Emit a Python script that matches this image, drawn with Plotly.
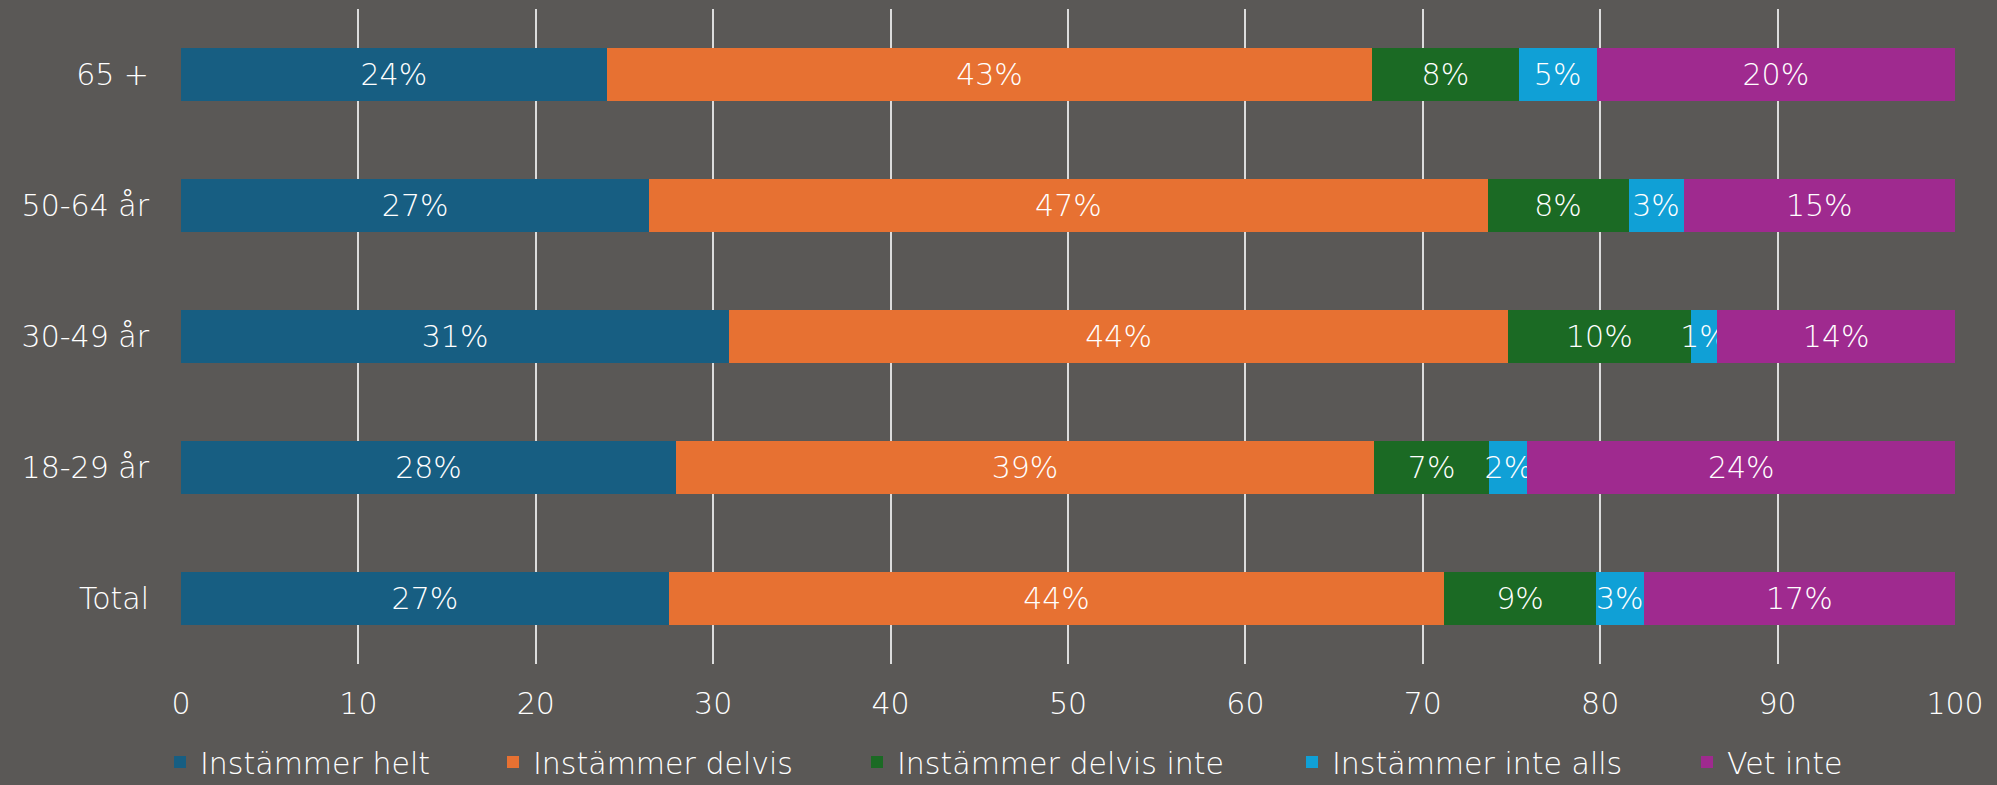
import plotly.graph_objects as go

# age groups, bottom to top as drawn
groups = ['Total', '18-29 år', '30-49 år', '50-64 år', '65 +']
answers = ['Instämmer helt', 'Instämmer delvis', 'Instämmer delvis inte', 'Instämmer inte alls', 'Vet inte']
colors = ['#175e82', '#e77132', '#1b6a24', '#10a0d6', '#9f2a8f']

# bar lengths (share in %)
helt = [27.5, 27.9, 30.9, 26.4, 24.0]
delvis = [43.7, 39.35, 43.9, 47.25, 43.15]
delvis_inte = [8.55, 6.5, 10.3, 7.95, 8.25]
inte_alls = [2.7, 2.15, 1.5, 3.1, 4.4]
vet_inte = [17.55, 24.1, 13.4, 15.3, 20.2]

# rounded labels printed in the bars
helt_lbl = [27, 28, 31, 27, 24]
delvis_lbl = [44, 39, 44, 47, 43]
delvis_inte_lbl = [9, 7, 10, 8, 8]
inte_alls_lbl = [3, 2, 1, 3, 5]
vet_inte_lbl = [17, 24, 14, 15, 20]

values = [helt, delvis, delvis_inte, inte_alls, vet_inte]
labels = [helt_lbl, delvis_lbl, delvis_inte_lbl, inte_alls_lbl, vet_inte_lbl]

W, H = 1997, 785
font = 'DejaVu Sans'
fsize = 30

# left edge of each legend text, in pixels (one legend per entry)
legend_text_x = [200, 533, 897, 1332, 1727]

fig = go.Figure()
legend_names = ['legend', 'legend2', 'legend3', 'legend4', 'legend5']
for name, vals, lbls, col, lg in zip(answers, values, labels, colors, legend_names):
    fig.add_trace(go.Bar(
        y=groups,
        x=vals,
        name=name,
        orientation='h',
        legend=lg,
        marker=dict(color=col, line=dict(width=0)),
        text=[f'{v}%' for v in lbls],
        textposition='inside',
        insidetextanchor='middle',
        textangle=0,
        textfont=dict(color='white', size=fsize, family=font, weight=300),
    ))

legends = {}
for lg, tx in zip(legend_names, legend_text_x):
    legends[lg] = dict(
        orientation='h',
        xref='container', yref='container',
        x=(tx - 40) / W, y=1 - 762 / H,
        xanchor='left', yanchor='middle',
        bgcolor='rgba(0,0,0,0)',
        font=dict(size=fsize, color='white', family=font, weight=300),
    )

fig.update_layout(
    width=W,
    height=H,
    barmode='stack',
    bargap=0.6,
    paper_bgcolor='#5a5856',
    plot_bgcolor='rgba(0,0,0,0)',
    margin=dict(l=181, r=42, t=9, b=121),
    font=dict(family=font, color='white', size=fsize, weight=300),
    uniformtext=dict(minsize=fsize, mode='show'),
    showlegend=True,
    **legends,
)
fig.update_xaxes(
    range=[0, 100],
    tickvals=[0, 10, 20, 30, 40, 50, 60, 70, 80, 90, 100],
    showgrid=True, gridcolor='#dcdcdc', gridwidth=2,
    zeroline=False, showline=False,
    ticks='', ticklabelstandoff=19,
    tickfont=dict(size=fsize, color='white', family=font, weight=300),
)
fig.update_yaxes(
    showgrid=False, zeroline=False, showline=False,
    ticklabelstandoff=31,
    tickfont=dict(size=fsize, color='white', family=font, weight=300),
)

fig.write_html('out.html', config={'displayModeBar': False},
               post_script="document.body.style.margin='0';document.body.style.background='#5a5856';")
